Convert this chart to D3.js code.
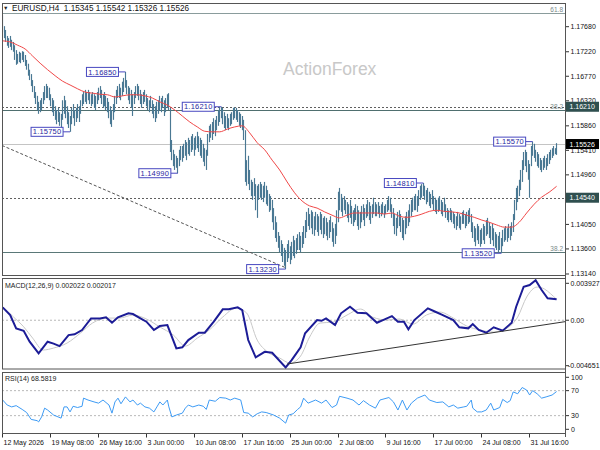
<!DOCTYPE html>
<html><head><meta charset="utf-8">
<script src="https://cdn.jsdelivr.net/npm/d3@7"></script>
<style>html,body{margin:0;padding:0;background:#fff;} svg{display:block;} text{font-family:"Liberation Sans",Arial,sans-serif;}</style>
</head><body><svg id="c" width="600" height="450"></svg>
<script>
const symbolTitle = "EURUSD,H4  1.15345 1.15542 1.15326 1.15526";
const watermark = "ActionForex";
const highs = [
1.1789,1.1769,1.1762,1.1751,1.1747,1.1751,1.1744,1.1740,1.1734,1.1725,
1.1718,1.1722,1.1720,1.1723,1.1722,1.1716,1.1707,1.1700,1.1689,1.1681,
1.1670,1.1659,1.1648,1.1641,1.1630,1.1633,1.1637,1.1648,1.1659,1.1663,
1.1659,1.1656,1.1644,1.1637,1.1633,1.1622,1.1615,1.1619,1.1611,1.1608,
1.1633,1.1641,1.1633,1.1622,1.1611,1.1604,1.1619,1.1626,1.1615,1.1619,
1.1626,1.1622,1.1633,1.1644,1.1648,1.1652,1.1648,1.1652,1.1648,1.1644,
1.1648,1.1644,1.1641,1.1648,1.1656,1.1659,1.1652,1.1644,1.1648,1.1641,
1.1637,1.1630,1.1622,1.1615,1.1626,1.1641,1.1652,1.1659,1.1663,1.1656,
1.1667,1.1674,1.1685,1.1670,1.1659,1.1656,1.1652,1.1644,1.1648,1.1659,
1.1663,1.1659,1.1652,1.1644,1.1648,1.1652,1.1644,1.1637,1.1633,1.1641,
1.1633,1.1626,1.1622,1.1630,1.1633,1.1641,1.1637,1.1641,1.1633,1.1637,
1.1644,1.1646,1.1619,1.1560,1.1542,1.1534,1.1531,1.1527,1.1542,1.1549,
1.1549,1.1553,1.1560,1.1556,1.1564,1.1560,1.1567,1.1571,1.1564,1.1567,
1.1575,1.1567,1.1564,1.1560,1.1553,1.1545,1.1542,1.1571,1.1586,1.1589,
1.1593,1.1600,1.1597,1.1604,1.1615,1.1620,1.1621,1.1619,1.1611,1.1604,
1.1608,1.1600,1.1608,1.1611,1.1619,1.1620,1.1619,1.1615,1.1611,1.1608,
1.1604,1.1597,1.1578,1.1523,1.1531,1.1505,1.1487,1.1483,1.1490,1.1479,
1.1476,1.1479,1.1483,1.1479,1.1476,1.1483,1.1476,1.1468,1.1461,1.1457,
1.1450,1.1435,1.1420,1.1409,1.1391,1.1384,1.1376,1.1369,1.1362,1.1358,
1.1369,1.1376,1.1365,1.1373,1.1384,1.1376,1.1380,1.1387,1.1391,1.1384,
1.1391,1.1402,1.1413,1.1428,1.1435,1.1424,1.1431,1.1428,1.1420,1.1428,
1.1424,1.1420,1.1428,1.1424,1.1417,1.1420,1.1417,1.1409,1.1413,1.1420,
1.1409,1.1398,1.1406,1.1431,1.1465,1.1472,1.1461,1.1454,1.1457,1.1450,
1.1446,1.1442,1.1450,1.1439,1.1431,1.1435,1.1442,1.1439,1.1431,1.1428,
1.1439,1.1442,1.1435,1.1442,1.1450,1.1446,1.1439,1.1442,1.1454,1.1446,
1.1442,1.1446,1.1439,1.1442,1.1446,1.1439,1.1442,1.1450,1.1457,1.1454,
1.1442,1.1435,1.1424,1.1417,1.1428,1.1431,1.1424,1.1417,1.1413,1.1420,
1.1428,1.1431,1.1442,1.1450,1.1454,1.1457,1.1461,1.1457,1.1468,1.1476,
1.1479,1.1481,1.1476,1.1468,1.1472,1.1465,1.1461,1.1468,1.1457,1.1454,
1.1450,1.1454,1.1457,1.1450,1.1446,1.1454,1.1442,1.1435,1.1431,1.1435,
1.1431,1.1428,1.1424,1.1420,1.1428,1.1424,1.1420,1.1428,1.1431,1.1424,
1.1428,1.1431,1.1435,1.1424,1.1409,1.1402,1.1398,1.1406,1.1402,1.1395,
1.1398,1.1406,1.1402,1.1413,1.1417,1.1409,1.1402,1.1406,1.1398,1.1391,
1.1387,1.1384,1.1391,1.1380,1.1395,1.1398,1.1402,1.1398,1.1406,1.1402,
1.1409,1.1424,1.1450,1.1472,1.1476,1.1487,1.1505,1.1523,1.1538,1.1542,
1.1538,1.1523,1.1516,1.1549,1.1557,1.1553,1.1542,1.1538,1.1534,1.1527,
1.1523,1.1527,1.1531,1.1527,1.1534,1.1538,1.1542,1.1545,1.1549,1.1545,1.15542];
const lows = [
1.1758,1.1747,1.1740,1.1733,1.1729,1.1731,1.1725,1.1722,1.1707,1.1698,
1.1700,1.1703,1.1701,1.1707,1.1703,1.1696,1.1689,1.1678,1.1670,1.1659,
1.1648,1.1637,1.1626,1.1615,1.1608,1.1611,1.1615,1.1626,1.1633,1.1637,
1.1637,1.1633,1.1622,1.1611,1.1604,1.1597,1.1589,1.1593,1.1586,1.1582,
1.1597,1.1608,1.1600,1.1589,1.1582,1.1575,1.1589,1.1600,1.1586,1.1593,
1.1600,1.1593,1.1608,1.1622,1.1626,1.1630,1.1626,1.1633,1.1626,1.1622,
1.1626,1.1619,1.1615,1.1626,1.1633,1.1637,1.1626,1.1619,1.1622,1.1615,
1.1611,1.1600,1.1589,1.1584,1.1597,1.1611,1.1626,1.1637,1.1637,1.1633,
1.1641,1.1648,1.1656,1.1644,1.1633,1.1626,1.1619,1.1604,1.1626,1.1637,
1.1641,1.1633,1.1626,1.1619,1.1626,1.1630,1.1622,1.1615,1.1611,1.1619,
1.1608,1.1600,1.1593,1.1600,1.1608,1.1615,1.1611,1.1619,1.1604,1.1611,
1.1619,1.1615,1.1538,1.1523,1.1512,1.1505,1.1509,1.1499,1.1512,1.1523,
1.1520,1.1527,1.1531,1.1523,1.1534,1.1531,1.1538,1.1542,1.1531,1.1542,
1.1545,1.1538,1.1531,1.1527,1.1520,1.1512,1.1505,1.1531,1.1556,1.1564,
1.1560,1.1571,1.1567,1.1578,1.1586,1.1593,1.1600,1.1589,1.1582,1.1578,
1.1582,1.1578,1.1586,1.1589,1.1597,1.1600,1.1597,1.1593,1.1586,1.1582,
1.1578,1.1560,1.1483,1.1476,1.1479,1.1468,1.1457,1.1450,1.1457,1.1431,
1.1417,1.1450,1.1454,1.1450,1.1446,1.1454,1.1442,1.1439,1.1428,1.1431,
1.1409,1.1395,1.1380,1.1373,1.1362,1.1354,1.1347,1.1336,1.1329,1.1323,
1.1336,1.1343,1.1332,1.1340,1.1347,1.1343,1.1351,1.1358,1.1358,1.1354,
1.1362,1.1369,1.1380,1.1391,1.1402,1.1395,1.1398,1.1387,1.1384,1.1395,
1.1391,1.1384,1.1395,1.1387,1.1380,1.1387,1.1384,1.1376,1.1380,1.1391,
1.1373,1.1364,1.1369,1.1384,1.1409,1.1431,1.1428,1.1420,1.1431,1.1424,
1.1417,1.1409,1.1417,1.1406,1.1402,1.1409,1.1413,1.1402,1.1395,1.1398,
1.1409,1.1413,1.1402,1.1417,1.1420,1.1413,1.1406,1.1417,1.1424,1.1420,
1.1420,1.1424,1.1417,1.1420,1.1424,1.1417,1.1424,1.1428,1.1431,1.1428,
1.1417,1.1402,1.1387,1.1384,1.1398,1.1402,1.1391,1.1380,1.1376,1.1387,
1.1398,1.1402,1.1409,1.1420,1.1428,1.1431,1.1431,1.1428,1.1439,1.1450,
1.1454,1.1457,1.1450,1.1442,1.1446,1.1439,1.1435,1.1442,1.1431,1.1428,
1.1424,1.1428,1.1431,1.1424,1.1420,1.1428,1.1417,1.1413,1.1409,1.1413,
1.1409,1.1406,1.1398,1.1395,1.1402,1.1398,1.1395,1.1406,1.1406,1.1398,
1.1402,1.1406,1.1409,1.1391,1.1380,1.1373,1.1365,1.1376,1.1369,1.1364,
1.1369,1.1376,1.1369,1.1384,1.1387,1.1380,1.1369,1.1376,1.1365,1.1362,
1.1358,1.1354,1.1358,1.1352,1.1365,1.1373,1.1376,1.1373,1.1380,1.1376,
1.1384,1.1391,1.1413,1.1431,1.1446,1.1457,1.1468,1.1483,1.1505,1.1512,
1.1501,1.1487,1.1454,1.1512,1.1531,1.1527,1.1520,1.1512,1.1509,1.1505,
1.1501,1.1505,1.1509,1.1505,1.1512,1.1516,1.1523,1.1527,1.1531,1.1534,1.15326];
// moving average read every 5 bars: [bar, price]
const maLine = [[0,1.1742],[5,1.1740],[10,1.1734],[15,1.1727],[20,1.1714],[25,1.1701],[30,1.1689],[35,1.1678],[40,1.1668],[45,1.1661],[50,1.1654],[55,1.1648],[60,1.1646],[65,1.1644],[70,1.1643],[75,1.1639],[80,1.1641],[85,1.1643],[90,1.1643],[95,1.1641],[100,1.1637],[105,1.1630],[110,1.1624],[115,1.1615],[120,1.1604],[125,1.1593],[130,1.1584],[135,1.1576],[140,1.1575],[145,1.1575],[150,1.1580],[155,1.1584],[160,1.1586],[165,1.1573],[170,1.1555],[175,1.1542],[180,1.1523],[185,1.1505],[190,1.1483],[195,1.1463],[200,1.1448],[205,1.1439],[210,1.1435],[215,1.1428],[220,1.1422],[225,1.1417],[230,1.1422],[235,1.1426],[240,1.1426],[245,1.1426],[250,1.1426],[255,1.1424],[260,1.1426],[265,1.1420],[270,1.1418],[275,1.1420],[280,1.1424],[285,1.1429],[290,1.1431],[295,1.1429],[300,1.1428],[305,1.1426],[310,1.1422],[315,1.1418],[320,1.1413],[325,1.1409],[330,1.1404],[335,1.1400],[340,1.1400],[345,1.1409],[350,1.1426],[355,1.1442],[360,1.1455],[365,1.1464],[370,1.1475]];
const priceTicks = [1.17680,1.17220,1.16770,1.16320,1.15860,1.15410,1.14960,1.14500,1.14050,1.13600,1.13140];
const pivots = [{bar:82,price:1.16850},{bar:45,price:1.15750},{bar:117,price:1.14990},{bar:146,price:1.16210},{bar:189,price:1.13230},{bar:281,price:1.14810},{bar:333,price:1.13520},{bar:354,price:1.15570}];
const fibLevels = [{price:1.1794,label:"61.8",color:"#8a9c9c"},{price:1.1615,label:"38.2",color:"#4f6f6f"},{price:1.1355,label:"38.2",color:"#5a7878"}];
const dottedLevels = [1.1621,1.1454];
const bidPrice = 1.15526;
const axisMarkers = [{price:1.16210,bg:"#2f4f4f"},{price:1.15526,bg:"#000000"},{price:1.14540,bg:"#2f4f4f"}];
const priceTrend = [[-0.5,1.1550],[189.5,1.1325]];
const macdMain = [[0,0.00124],[5,0.00050],[9,-0.00078],[14,-0.00101],[18,-0.00207],[24,-0.00319],[30,-0.00207],[34,-0.00225],[38,-0.00249],[44,-0.00143],[48,-0.00135],[53,-0.00094],[59,0.00018],[65,0.00018],[69,0.00028],[73,-0.00024],[77,0.00028],[84,0.00067],[87,0.00060],[92,0.00018],[96,-0.00014],[101,-0.00094],[105,-0.00056],[110,-0.00046],[116,-0.00271],[120,-0.00261],[124,-0.00191],[131,-0.00120],[135,-0.00120],[141,-0.00014],[147,0.00105],[151,0.00105],[157,0.00124],[160,0.00098],[164,-0.00191],[169,-0.00358],[175,-0.00304],[180,-0.00313],[189,-0.00455],[193,-0.00384],[199,-0.00261],[202,-0.00126],[210,0.00002],[213,-0.00005],[216,0.00018],[222,-0.00046],[226,0.00067],[232,0.00130],[237,0.00072],[243,0.00067],[250,-0.00024],[254,0.00002],[260,0.00040],[264,-0.00014],[268,-0.00014],[271,-0.00088],[275,0.00002],[284,0.00115],[289,0.00082],[294,0.00050],[301,0.00002],[305,-0.00068],[311,-0.00078],[314,-0.00037],[318,-0.00094],[323,-0.00120],[328,-0.00068],[334,-0.00101],[340,-0.00024],[343,0.00130],[348,0.00323],[352,0.00339],[356,0.00385],[360,0.00291],[364,0.00211],[370,0.002022]];
const macdSignal = [[0,0.00130],[7,0.00034],[14,-0.00063],[20,-0.00172],[27,-0.00287],[34,-0.00268],[43,-0.00220],[52,-0.00123],[60,-0.00027],[70,0.00021],[78,0.00021],[87,0.00050],[96,0.00012],[105,-0.00065],[114,-0.00143],[122,-0.00249],[130,-0.00172],[138,-0.00094],[147,0.00031],[156,0.00118],[163,0.00069],[170,-0.00191],[177,-0.00306],[185,-0.00364],[192,-0.00413],[199,-0.00345],[205,-0.00162],[212,-0.00027],[221,-0.00017],[230,0.00050],[239,0.00108],[247,0.00031],[257,0.00002],[265,0.00012],[274,-0.00037],[283,0.00050],[292,0.00079],[301,0.00021],[310,-0.00056],[319,-0.00094],[328,-0.00114],[337,-0.00075],[344,0.00031],[350,0.00224],[357,0.00320],[362,0.00300],[366,0.00255],[370,0.002017]];
const macdTrend = [[190,-0.00422],[376,-0.00013]];
const macdRange = [-0.004651,0.003927];
const macdTitle = "MACD(12,26,9) 0.002022 0.002017";
const rsi = [[0,55],[3,47],[6,44],[9,46],[13,40],[16,35],[19,24],[23,22],[24,20],[26,28],[28,42],[30,39],[34,31],[37,28],[39,26],[41,44],[43,44],[45,36],[47,45],[50,43],[53,45],[54,58],[57,55],[61,52],[64,50],[67,55],[71,47],[73,34],[75,52],[77,58],[79,49],[82,60],[85,52],[87,55],[90,47],[92,50],[95,44],[98,42],[101,36],[103,44],[105,52],[107,47],[110,55],[111,44],[113,28],[116,31],[120,34],[122,42],[124,47],[127,44],[131,47],[134,45],[136,40],[138,55],[142,53],[145,59],[149,58],[152,55],[155,58],[159,55],[161,35],[164,34],[167,28],[170,33],[173,36],[176,35],[181,31],[185,26],[189,18],[191,31],[194,33],[197,40],[199,44],[201,58],[204,50],[209,55],[213,50],[216,55],[220,43],[223,47],[225,61],[230,58],[234,55],[238,47],[241,54],[245,47],[249,42],[252,55],[258,59],[261,52],[264,39],[267,55],[270,39],[273,50],[277,58],[282,63],[285,55],[290,51],[294,52],[298,44],[301,47],[304,42],[308,44],[310,45],[313,55],[314,42],[317,36],[320,36],[323,39],[326,50],[328,39],[332,43],[334,56],[337,51],[339,54],[341,68],[344,65],[347,75],[350,71],[352,63],[354,70],[357,65],[360,58],[363,60],[367,63],[370,68.5819]];
const rsiTitle = "RSI(14) 68.5819";
const rsiLevels = [70,30];
const rsiTicks = [100,70,30,0];
const timeTickBars = [0,32,64,96,128,160,192,224,256,288,320,352];
const timeTickLabels = ["12 May 2026","19 May 08:00","26 May 16:00","3 Jun 00:00","10 Jun 08:00","17 Jun 16:00","25 Jun 00:00","2 Jul 08:00","9 Jul 16:00","17 Jul 00:00","24 Jul 08:00","31 Jul 16:00"];

const svg = d3.select("#c");
const L = 2, R = 566;
const P = {top:3, bot:276}, M = {top:278, bot:369.5}, Q = {top:372, bot:434};
const x = d3.scaleLinear().domain([0,370]).range([2.7,556.6]);
const yP = d3.scaleLinear().domain([1.13103,1.18115]).range([P.bot,P.top]);
const yM = d3.scaleLinear().domain(macdRange).range([368.5,279.5]);
const yR = d3.scaleLinear().domain([0,100]).range([434.4,371.9]);
const FS = 7;

const defs = svg.append("defs");
[["cp",P],["cm",M],["cr",Q]].forEach(([id,p])=>{
  defs.append("clipPath").attr("id",id).append("rect").attr("x",L).attr("y",p.top).attr("width",R-L).attr("height",p.bot-p.top);
});

// ---------- main panel ----------
const gP = svg.append("g").attr("clip-path","url(#cp)");
gP.append("text").attr("x",283).attr("y",75).attr("font-size",17.5).attr("fill","#c8c8c8").text(watermark);

fibLevels.forEach(f=>{
  gP.append("line").attr("x1",L).attr("x2",R).attr("y1",Math.round(yP(f.price))+0.5).attr("y2",Math.round(yP(f.price))+0.5)
    .attr("stroke",f.color).attr("stroke-width",1);
  gP.append("text").attr("x",R-3).attr("y",Math.round(yP(f.price))-1.5).attr("text-anchor","end")
    .attr("font-size",6.5).attr("fill","#7a8a8a").text(f.label);
});
gP.append("line").attr("x1",L).attr("x2",R).attr("y1",Math.round(yP(bidPrice))+0.5).attr("y2",Math.round(yP(bidPrice))+0.5)
  .attr("stroke","#c4c4c4").attr("stroke-width",1);
dottedLevels.forEach(p=>{
  gP.append("line").attr("x1",L).attr("x2",R).attr("y1",Math.round(yP(p))+0.5).attr("y2",Math.round(yP(p))+0.5)
    .attr("stroke","#606060").attr("stroke-width",1).attr("stroke-dasharray","2,2");
});
gP.append("line").attr("x1",x(priceTrend[0][0])).attr("y1",yP(priceTrend[0][1]))
  .attr("x2",x(priceTrend[1][0])).attr("y2",yP(priceTrend[1][1]))
  .attr("stroke","#555").attr("stroke-width",1).attr("stroke-dasharray","3,2");

// bars
gP.append("g").selectAll("line").data(highs).join("line")
  .attr("x1",(d,i)=>Math.floor(x(i))+0.5).attr("x2",(d,i)=>Math.floor(x(i))+0.5)
  .attr("y1",d=>yP(d)).attr("y2",(d,i)=>yP(lows[i]))
  .attr("stroke","#4a7893").attr("stroke-width",1.15);

// MA
gP.append("path").datum(maLine).attr("fill","none").attr("stroke","#f04848").attr("stroke-width",1)
  .attr("d",d3.line().x(d=>x(d[0])).y(d=>yP(d[1])).curve(d3.curveMonotoneX));

// pivots
pivots.forEach(p=>{
  const bx = x(p.bar), by = yP(p.price), right = bx - 7;
  gP.append("line").attr("x1",right).attr("x2",bx).attr("y1",by).attr("y2",by).attr("stroke","#4848c0").attr("stroke-width",1);
  gP.append("rect").attr("x",right-32).attr("y",by-4.5).attr("width",32).attr("height",9)
    .attr("fill","#fff").attr("stroke","#4848c0").attr("stroke-width",1);
  gP.append("text").attr("x",right-16).attr("y",by+2.6).attr("text-anchor","middle")
    .attr("font-size",7.5).attr("fill","#2828a0").attr("letter-spacing",0.2).text(p.price.toFixed(5));
});

// title
svg.append("text").attr("x",3).attr("y",10).attr("font-size",5.5).attr("fill","#222").text("▼");
svg.append("text").attr("x",12).attr("y",10.8).attr("font-size",8.2).attr("fill","#111")
  .style("white-space","pre").text(symbolTitle);

// ---------- MACD panel ----------
const gM = svg.append("g").attr("clip-path","url(#cm)");
gM.append("line").attr("x1",L).attr("x2",R).attr("y1",yM(0)).attr("y2",yM(0)).attr("stroke","#b8b8b8").attr("stroke-dasharray","2,2");
gM.append("path").datum(macdSignal).attr("fill","none").attr("stroke","#c8c8c8").attr("stroke-width",1)
  .attr("d",d3.line().x(d=>x(d[0])).y(d=>yM(d[1])).curve(d3.curveMonotoneX));
gM.append("path").datum(macdMain).attr("fill","none").attr("stroke","#1c1c96").attr("stroke-width",2)
  .attr("d",d3.line().x(d=>x(d[0])).y(d=>yM(d[1])));
gM.append("line").attr("x1",x(macdTrend[0][0])).attr("y1",yM(macdTrend[0][1]))
  .attr("x2",x(macdTrend[1][0])).attr("y2",yM(macdTrend[1][1])).attr("stroke","#333").attr("stroke-width",1);
svg.append("text").attr("x",5).attr("y",287.5).attr("font-size",FS).attr("fill","#222").text(macdTitle);

// ---------- RSI panel ----------
const gR = svg.append("g").attr("clip-path","url(#cr)");
rsiLevels.forEach(v=>{
  gR.append("line").attr("x1",L).attr("x2",R).attr("y1",yR(v)).attr("y2",yR(v)).attr("stroke","#b8b8b8").attr("stroke-dasharray","2,2");
});
gR.append("path").datum(rsi).attr("fill","none").attr("stroke","#3d9bf5").attr("stroke-width",1)
  .attr("d",d3.line().x(d=>x(d[0])).y(d=>yR(d[1])));
svg.append("text").attr("x",5).attr("y",381).attr("font-size",FS).attr("fill","#222").text(rsiTitle);

// ---------- frames ----------
[P,M,Q].forEach(p=>{
  svg.append("rect").attr("x",L+0.5).attr("y",p.top+0.5).attr("width",R-L-1).attr("height",p.bot-p.top-1)
    .attr("fill","none").attr("stroke","#555").attr("stroke-width",1);
});
svg.append("line").attr("x1",R-0.5).attr("x2",R-0.5).attr("y1",P.top).attr("y2",437).attr("stroke","#555");

// right price axis
const ax = svg.append("g");
priceTicks.forEach(t=>{
  const yy = yP(t);
  ax.append("line").attr("x1",R).attr("x2",R+3).attr("y1",yy).attr("y2",yy).attr("stroke","#333");
  ax.append("text").attr("x",R+4.5).attr("y",yy+2.5).attr("font-size",FS).attr("fill","#111").text(t.toFixed(5));
});
axisMarkers.forEach(m=>{
  const yy = yP(m.price);
  ax.append("rect").attr("x",R).attr("y",yy-5).attr("width",33).attr("height",10).attr("fill",m.bg);
  ax.append("text").attr("x",R+3.5).attr("y",yy+2.5).attr("font-size",FS).attr("fill","#fff").text(m.price.toFixed(5));
});
// MACD axis labels
[[macdRange[1],283.3,macdRange[1].toFixed(6)],[0,yM(0),"0.00"],[macdRange[0],365.7,macdRange[0].toFixed(6)]].forEach(([v,yy,s])=>{
  ax.append("line").attr("x1",R).attr("x2",R+3).attr("y1",yy).attr("y2",yy).attr("stroke","#333");
  ax.append("text").attr("x",s.startsWith("-")?R+2:R+4.5).attr("y",yy+2.5).attr("font-size",FS).attr("fill","#111").text(s);
});
// RSI axis labels
const rsiLabelPos = {100:377.3,70:yR(70),30:yR(30),0:429.3};
rsiTicks.forEach(v=>{
  const yy = rsiLabelPos[v];
  ax.append("line").attr("x1",R).attr("x2",R+3).attr("y1",yy).attr("y2",yy).attr("stroke","#333");
  ax.append("text").attr("x",R+5).attr("y",yy+2.5).attr("font-size",FS).attr("fill","#111").text(v);
});
// time axis
timeTickBars.forEach((b,i)=>{
  const xx = Math.floor(x(b))+0.5;
  ax.append("line").attr("x1",xx).attr("x2",xx).attr("y1",Q.bot).attr("y2",Q.bot+3.5).attr("stroke","#333");
  ax.append("text").attr("x",xx+1).attr("y",444.5).attr("font-size",FS).attr("fill","#111").text(timeTickLabels[i]);
});
</script></body></html>
